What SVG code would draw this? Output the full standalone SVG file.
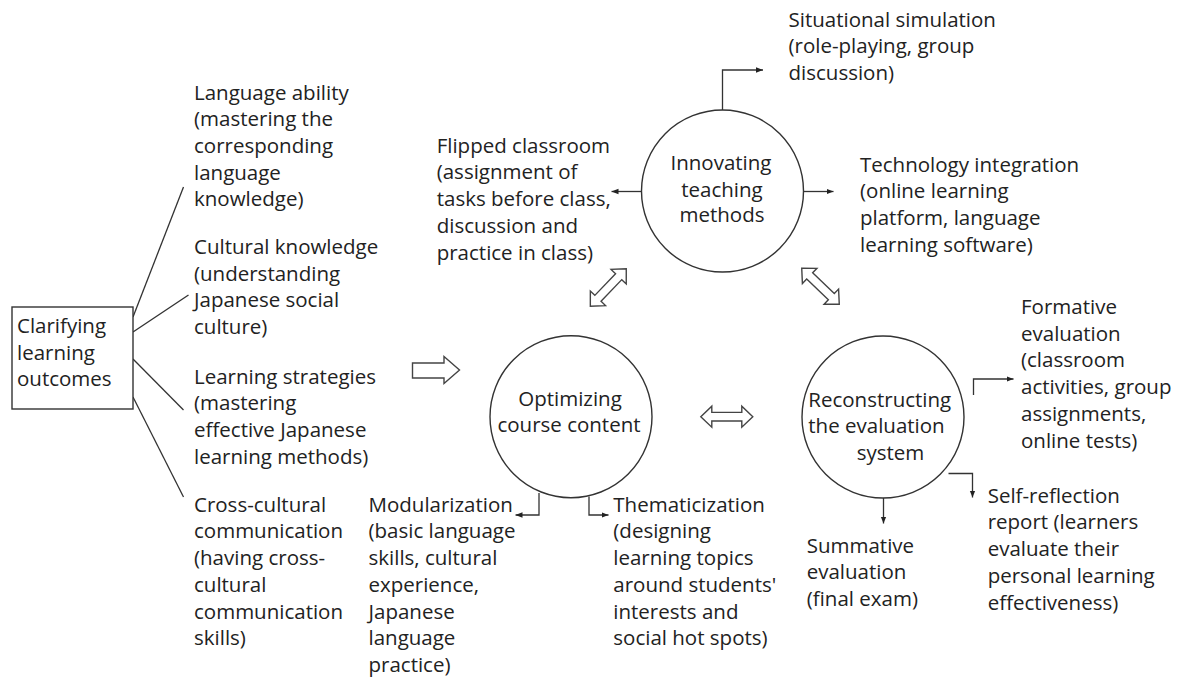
<svg xmlns="http://www.w3.org/2000/svg" width="1185" height="680" viewBox="0 0 1185 680">
<defs>
<style>
text{font-family:"Open Sans","Noto Sans","Liberation Sans",sans-serif;font-size:20.5px;fill:#222}
.ln{fill:none;stroke:#333;stroke-width:1.3}
.arw{fill:none;stroke:#333;stroke-width:1.3;marker-end:url(#ah)}
.node{fill:#fff;stroke:#333;stroke-width:1.4}
.blk{fill:#fff;stroke:#444;stroke-width:1.4;stroke-linejoin:miter}
.mid{text-anchor:middle}
</style>
<marker id="ah" viewBox="0 0 10 10" refX="10" refY="5" markerWidth="7" markerHeight="7" markerUnits="userSpaceOnUse" orient="auto">
<path d="M0,1 L10,5 L0,9 z" fill="#222"/>
</marker>
<polygon id="dbl" points="-26,0 -15,-10.5 -15,-4.3 15,-4.3 15,-10.5 26,0 15,10.5 15,4.3 -15,4.3 -15,10.5"/>
</defs>
<rect width="1185" height="680" fill="#fff"/>

<g id="connectors">
<line class="ln" x1="133" y1="317" x2="183.5" y2="187"/>
<line class="ln" x1="133" y1="332" x2="188.5" y2="295"/>
<line class="ln" x1="133" y1="359" x2="183.5" y2="410"/>
<line class="ln" x1="133" y1="397" x2="183.5" y2="497"/>
<polyline class="arw" points="722.5,110 722.5,70 763,70"/>
<line class="arw" x1="641.5" y1="191.5" x2="611.5" y2="191.5"/>
<line class="arw" x1="803.5" y1="191.5" x2="833.5" y2="191.5"/>
<polyline class="arw" points="539,493 539,515 515.5,515"/>
<polyline class="arw" points="589,496.5 589,515 608.5,515"/>
<polyline class="arw" points="973.5,395 973.5,379 1013.5,379"/>
<polyline class="arw" points="948.5,473.5 972.5,473.5 972.5,497.5"/>
<line class="arw" x1="883.5" y1="498" x2="883.5" y2="523.5"/>
<polygon class="blk" points="412.5,363 444,363 444,356.5 459.5,370 444,383.5 444,378 412.5,378"/>
<use href="#dbl" class="blk" transform="translate(726.8,416.7)"/>
<use href="#dbl" class="blk" transform="translate(608.3,287.5) rotate(-46.3)"/>
<use href="#dbl" class="blk" transform="translate(820.5,286.3) rotate(43.8)"/>
</g>

<g id="clarifying">
<rect class="node" x="12" y="307" width="121" height="102"/>
<text x="17" y="333">Clarifying</text>
<text x="17" y="359.5">learning</text>
<text x="17" y="386">outcomes</text>
</g>

<g id="language-ability">
<text x="194" y="99.5">Language ability</text>
<text x="194" y="126.2">(mastering the</text>
<text x="194" y="152.9">corresponding</text>
<text x="194" y="179.6">language</text>
<text x="194" y="206.3">knowledge)</text>
</g>

<g id="cultural-knowledge">
<text x="194" y="254">Cultural knowledge</text>
<text x="194" y="280.7">(understanding</text>
<text x="194" y="307.4">Japanese social</text>
<text x="194" y="334.1">culture)</text>
</g>

<g id="learning-strategies">
<text x="194" y="383.5">Learning strategies</text>
<text x="194" y="410.2">(mastering</text>
<text x="194" y="436.9">effective Japanese</text>
<text x="194" y="463.6">learning methods)</text>
</g>

<g id="cross-cultural">
<text x="194" y="511.7">Cross-cultural</text>
<text x="194" y="538.4">communication</text>
<text x="194" y="565.1">(having cross-</text>
<text x="194" y="591.8">cultural</text>
<text x="194" y="618.5">communication</text>
<text x="194" y="645.2">skills)</text>
</g>

<g id="innovating">
<circle class="node" cx="722.5" cy="191" r="81"/>
<text class="mid" x="721" y="170">Innovating</text>
<text class="mid" x="722" y="196.7">teaching</text>
<text class="mid" x="722" y="222">methods</text>
</g>

<g id="situational">
<text x="788.5" y="26.7">Situational simulation</text>
<text x="788.5" y="53.4">(role-playing, group</text>
<text x="788.5" y="80.1">discussion)</text>
</g>

<g id="flipped">
<text x="436.7" y="152.7">Flipped classroom</text>
<text x="436.7" y="179.4">(assignment of</text>
<text x="436.7" y="206.1">tasks before class,</text>
<text x="436.7" y="232.8">discussion and</text>
<text x="436.7" y="259.5">practice in class)</text>
</g>

<g id="technology">
<text x="860" y="171.7">Technology integration</text>
<text x="860" y="198.4">(online learning</text>
<text x="860" y="225.1">platform, language</text>
<text x="860" y="251.8">learning software)</text>
</g>

<g id="optimizing">
<circle class="node" cx="571" cy="416.7" r="81"/>
<text class="mid" x="570" y="406">Optimizing</text>
<text class="mid" x="569" y="432">course content</text>
</g>

<g id="modularization">
<text x="368.5" y="511.7">Modularization</text>
<text x="368.5" y="538.4">(basic language</text>
<text x="368.5" y="565.1">skills, cultural</text>
<text x="368.5" y="591.8">experience,</text>
<text x="368.5" y="618.5">Japanese</text>
<text x="368.5" y="645.2">language</text>
<text x="368.5" y="671.9">practice)</text>
</g>

<g id="thematicization">
<text x="613.3" y="511.7">Thematicization</text>
<text x="613.3" y="538.4">(designing</text>
<text x="613.3" y="565.1">learning topics</text>
<text x="613.3" y="591.8">around students'</text>
<text x="613.3" y="618.5">interests and</text>
<text x="613.3" y="645.2">social hot spots)</text>
</g>

<g id="reconstructing">
<circle class="node" cx="883" cy="417" r="81"/>
<text x="808.3" y="406.7">Reconstructing</text>
<text x="808.3" y="433">the evaluation</text>
<text x="856.7" y="459.5">system</text>
</g>

<g id="formative">
<text x="1021" y="314">Formative</text>
<text x="1021" y="340.7">evaluation</text>
<text x="1021" y="367.4">(classroom</text>
<text x="1021" y="394.1">activities, group</text>
<text x="1021" y="420.8">assignments,</text>
<text x="1021" y="447.5">online tests)</text>
</g>

<g id="self-reflection">
<text x="987.7" y="502.7">Self-reflection</text>
<text x="987.7" y="529.4">report (learners</text>
<text x="987.7" y="556.1">evaluate their</text>
<text x="987.7" y="582.8">personal learning</text>
<text x="987.7" y="609.5">effectiveness)</text>
</g>

<g id="summative">
<text x="806.7" y="552.7">Summative</text>
<text x="806.7" y="579.4">evaluation</text>
<text x="806.7" y="606">(final exam)</text>
</g>
</svg>
